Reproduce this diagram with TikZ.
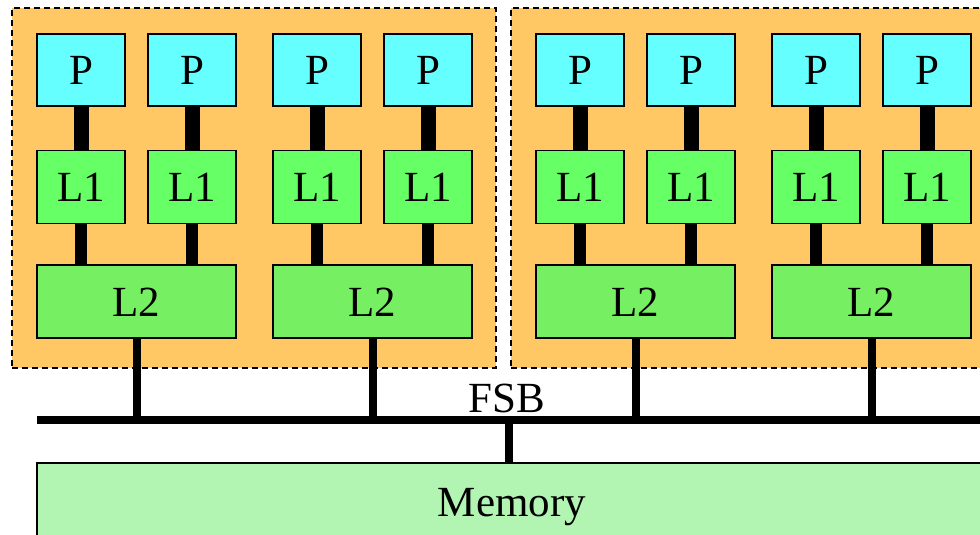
\documentclass[tikz,border=0pt]{standalone}
\usepackage{fontspec}
\setmainfont{Liberation Serif}
\usetikzlibrary{positioning}

\definecolor{chiporange}{RGB}{255,200,100}
\definecolor{pcyan}{RGB}{102,255,255}
\definecolor{lonegreen}{RGB}{102,255,102}
\definecolor{ltwogreen}{RGB}{118,240,98}
\definecolor{memgreen}{RGB}{178,244,178}

\tikzset{
  chip/.style={draw, fill=chiporange, line width=1.6pt, dash pattern=on 6pt off 4pt, inner sep=0pt},
  box/.style={draw, line width=1.3pt, inner sep=0pt, text height=29pt, text depth=0pt,
    font=\fontsize{43}{48}\selectfont},
  pbox/.style={box, fill=pcyan, minimum width=88pt, minimum height=72pt},
  lonebox/.style={box, fill=lonegreen, minimum width=88pt, minimum height=73pt},
  ltwobox/.style={box, fill=ltwogreen, minimum width=199pt, minimum height=73pt},
  membox/.style={box, fill=memgreen, minimum width=950pt, minimum height=77pt},
  wire/.style={line width=8pt}
}

\begin{document}
\begin{tikzpicture}[x=1pt,y=-1pt]
    \clip (0,0) rectangle (980,535);

    % two chips
    \node[chip, minimum width=484pt, minimum height=360pt] (chipA) at (254,188) {};
    \node[chip, minimum width=489pt, minimum height=360pt] (chipB) at (755.5,188) {};

    % cores with their L1
    \foreach \i/\x in {1/81,2/192,3/317,4/428,5/580,6/691,7/816,8/927}{
        \node[pbox] (p\i) at (\x,70) {P};
        \node[lonebox, below=43pt of p\i] (lone\i) {L1};
        \draw[line width=15pt] (p\i) -- (lone\i);
    }

    % shared L2 and its taps on the bus
    \foreach \j/\x/\a/\b in {1/136.5/1/2,2/372.5/3/4,3/635.5/5/6,4/871.5/7/8}{
        \node[ltwobox] (ltwo\j) at (\x,301.5) {L2};
        \draw[line width=12pt] (lone\a.south) -- (lone\a.south |- ltwo\j.north);
        \draw[line width=12pt] (lone\b.south) -- (lone\b.south |- ltwo\j.north);
        \coordinate (tap\j) at (\x,420);
        \draw[wire] (ltwo\j) -- (tap\j);
    }

    % front side bus
    \coordinate (busL) at (37,420);
    \coordinate (busR) at (990,420);
    \draw[wire] (busL) -- (busR);
    \node[font=\fontsize{43}{48}\selectfont, inner sep=0pt, anchor=base] (fsb) at (507,412) {FSB};

    \node[membox] (mem) at (512,501.5) {Memory};
    \coordinate (tapm) at (509,420);
    \draw[wire] (tapm) -- (mem.north -| tapm);
\end{tikzpicture}
\end{document}
